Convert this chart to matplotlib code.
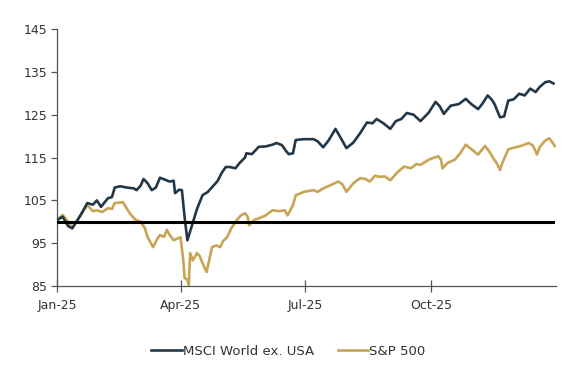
import numpy as np
import pandas as pd
import matplotlib
matplotlib.use("Agg")
import matplotlib.pyplot as plt
import matplotlib.dates as mdates

# days after 1 Jan 2025 and index level (start = 100)
msci_days = [0, 4, 8, 11, 17, 22, 26, 29, 32, 37, 40, 42, 46, 51, 56, 58, 61, 63, 66, 69,
             72, 75, 79, 82, 85, 86, 89, 91, 93, 95, 98, 102, 106, 110, 113, 117, 120, 123,
             126, 130, 133, 137, 138, 142, 145, 147, 152, 157, 160, 164, 167, 169, 172, 174,
             180, 187, 190, 194, 198, 203, 207, 211, 216, 221, 226, 230, 233, 238, 243, 247,
             251, 255, 260, 265, 271, 276, 279, 282, 287, 293, 298, 302, 307, 310, 314, 317,
             319, 323, 326, 329, 333, 337, 341, 345, 349, 352, 356, 359, 362]
msci = [100.4, 101.2, 99.0, 98.5, 101.5, 104.4, 104.0, 105.0, 103.5, 105.5, 105.8, 108.0,
        108.3, 108.0, 107.8, 107.4, 108.5, 110.0, 109.0, 107.4, 108.0, 110.3, 109.8, 109.4,
        109.6, 106.7, 107.5, 107.4, 101.0, 95.7, 98.8, 103.0, 106.2, 107.0, 108.1, 109.5,
        111.4, 112.8, 112.8, 112.5, 113.7, 115.0, 116.0, 115.8, 116.8, 117.5, 117.6, 118.0,
        118.4, 117.9, 116.5, 115.8, 116.0, 119.1, 119.3, 119.3, 118.8, 117.4, 119.0, 121.7,
        119.5, 117.2, 118.5, 120.7, 123.2, 123.0, 124.0, 123.0, 121.7, 123.5, 124.0, 125.4,
        125.0, 123.5, 125.5, 128.0, 127.0, 125.2, 127.1, 127.5, 128.7, 127.5, 126.3, 127.5,
        129.5, 128.5, 127.5, 124.4, 124.6, 128.3, 128.6, 129.9, 129.5, 131.1, 130.3, 131.5,
        132.6, 132.8, 132.3]

spx_days = [0, 4, 8, 11, 17, 22, 26, 29, 33, 37, 40, 42, 46, 48, 51, 53, 57, 61, 64, 66,
            70, 73, 75, 78, 80, 82, 85, 87, 90, 92, 93, 95, 96, 97, 99, 102, 104, 106, 109,
            113, 116, 119, 121, 124, 127, 131, 134, 137, 139, 140, 144, 147, 152, 157, 162,
            166, 168, 172, 174, 180, 187, 190, 194, 199, 205, 208, 211, 216, 221, 225, 228,
            232, 235, 239, 243, 248, 253, 258, 262, 265, 271, 275, 278, 280, 281, 285, 290,
            294, 298, 302, 307, 312, 315, 318, 321, 323, 325, 329, 333, 338, 344, 347, 350,
            352, 356, 359, 363]
spx = [100.4, 101.6, 100.0, 98.5, 101.5, 103.9, 102.5, 102.7, 102.3, 103.2, 103.0, 104.4,
       104.5, 104.6, 103.0, 102.0, 100.5, 100.0, 98.5, 96.4, 94.1, 96.0, 96.9, 96.5, 98.1,
       97.0, 95.7, 96.0, 96.4, 91.0, 86.9, 86.5, 85.3, 92.7, 91.0, 92.7, 92.0, 90.4, 88.3,
       94.1, 94.5, 94.1, 95.5, 96.4, 98.5, 100.4, 101.5, 102.0, 101.2, 99.2, 100.5, 100.8,
       101.5, 102.7, 102.5, 102.7, 101.5, 103.9, 106.2, 107.0, 107.4, 107.0, 107.8, 108.5,
       109.4, 108.8, 107.0, 109.0, 110.2, 110.0, 109.4, 110.8, 110.5, 110.6, 109.7, 111.5,
       112.9, 112.5, 113.5, 113.3, 114.5, 115.0, 115.3, 114.5, 112.5, 113.8, 114.5, 116.0,
       118.0, 117.0, 115.7, 117.7, 116.5, 114.9, 113.5, 112.1, 114.0, 116.9, 117.3, 117.7,
       118.4, 117.8, 115.7, 117.5, 119.0, 119.5, 117.7]

start = pd.Timestamp("2025-01-01")
msci_dates = start + pd.to_timedelta(msci_days, unit="D")
spx_dates = start + pd.to_timedelta(spx_days, unit="D")

navy = "#243746"
gold = "#c8a453"
txt = "#333333"

fig = plt.figure(figsize=(5.77, 3.82), dpi=100)
ax = fig.add_axes([0.099, 0.251, 0.865, 0.673])

ax.plot(msci_dates, msci, color=navy, lw=1.9, label="MSCI World ex. USA", zorder=3)
ax.plot(spx_dates, spx, color=gold, lw=1.9, label="S&P 500", zorder=2)
ax.plot([msci_dates[0], msci_dates[-1]], [100, 100], color="black", lw=2.2, zorder=4)

ax.set_ylim(85, 145)
ax.set_yticks(np.arange(85, 146, 10))
ax.set_xlim(start, pd.Timestamp("2025-12-31"))
ax.set_xticks(pd.to_datetime(["2025-01-01", "2025-04-01", "2025-07-01", "2025-10-01"]))
ax.xaxis.set_major_formatter(mdates.DateFormatter("%b-%y"))

for s in ["top", "right"]:
    ax.spines[s].set_visible(False)
for s in ["left", "bottom"]:
    ax.spines[s].set_color("#555555")
    ax.spines[s].set_linewidth(0.9)

ax.tick_params(axis="y", direction="out", length=4, width=0.9, color="#555555",
               labelsize=9, labelcolor=txt, pad=3)
ax.tick_params(axis="x", direction="inout", length=8, width=0.9, color="#555555",
               labelsize=9, labelcolor=txt, pad=5)

fig.legend(loc="center", bbox_to_anchor=(0.5, 0.081), ncol=2, frameon=False,
           fontsize=9.5, handlelength=2.3, handletextpad=0.1, columnspacing=1.8,
           labelcolor=txt)

fig.savefig("out.png", dpi=100)
